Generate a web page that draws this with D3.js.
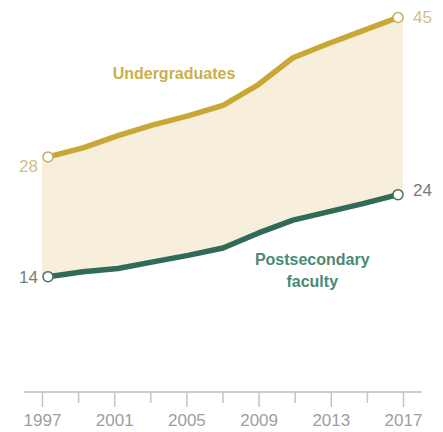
<!DOCTYPE html>
<html>
<head>
<meta charset="utf-8">
<script src="https://cdn.jsdelivr.net/npm/d3@7"></script>
<style>
	body { margin: 0; background: #fff; }
	text { font-family: "Liberation Sans", Arial, sans-serif; }
	.series-label { font-family: "Liberation Sans Narrow", "Liberation Sans", Arial, sans-serif; font-weight: bold; }
</style>
</head>
<body>
<div id="chart-area"></div>
<script>
// Data
const years = [1997, 1999, 2001, 2003, 2005, 2007, 2009, 2011, 2013, 2015, 2017]
const undergrads = [28.3, 29.4, 30.9, 32.2, 33.3, 34.6, 37.1, 40.4, 42.1, 43.7, 45.3]
const faculty = [13.7, 14.3, 14.7, 15.5, 16.3, 17.2, 19.0, 20.6, 21.6, 22.6, 23.7]
const majorTicks = [1997, 2001, 2005, 2009, 2013, 2017]
const minorTicks = [1999, 2003, 2007, 2011, 2015]
const endLabels = { under: ["28", "45"], fac: ["14", "24"] }

// Canvas
const width = 443, height = 432

const svg = d3.select("#chart-area")
	.append("svg")
	.attr("width", width)
	.attr("height", height)

// Scales
const xLine = d3.scaleLinear().domain([1997, 2017]).range([48, 398])
const xAxisScale = d3.scaleLinear().domain([1997, 2017]).range([42, 403])
const y = d3.scaleLinear().domain([0, 45]).range([389, 20])
const axisY = 392

const rows = years.map((yr, i) => ({ year: yr, under: undergrads[i], fac: faculty[i] }))

// Band between the two series
const area = d3.area()
	.x(d => xAxisScale(d.year))
	.y0(d => y(d.fac))
	.y1(d => y(d.under))

svg.append("path")
	.attr("d", area(rows))
	.attr("fill", "#f7efdb")

// Lines
const lineUnder = d3.line().x(d => xLine(d.year)).y(d => y(d.under))
const lineFac = d3.line().x(d => xLine(d.year)).y(d => y(d.fac))

svg.append("path")
	.attr("d", lineUnder(rows))
	.attr("fill", "none")
	.attr("stroke", "#c9a735")
	.attr("stroke-width", 5.5)
	.attr("stroke-linejoin", "round")

svg.append("path")
	.attr("d", lineFac(rows))
	.attr("fill", "none")
	.attr("stroke", "#2f6b57")
	.attr("stroke-width", 5.5)
	.attr("stroke-linejoin", "round")

// End circles
const ends = [rows[0], rows[rows.length - 1]]
svg.selectAll(".c-under").data(ends).enter().append("circle")
	.attr("cx", d => xLine(d.year)).attr("cy", d => y(d.under)).attr("r", 5)
	.attr("fill", "#fff").attr("stroke", "#c8ad60").attr("stroke-width", 1.5)
svg.selectAll(".c-fac").data(ends).enter().append("circle")
	.attr("cx", d => xLine(d.year)).attr("cy", d => y(d.fac)).attr("r", 5)
	.attr("fill", "#fff").attr("stroke", "#4d6f64").attr("stroke-width", 1.5)

// End value labels
const first = rows[0], last = rows[rows.length - 1]
svg.append("text").attr("x", xLine(first.year) - 10).attr("y", y(first.under) + 15)
	.attr("text-anchor", "end").attr("font-size", "17px").attr("fill", "#d3bf82").text(endLabels.under[0])
svg.append("text").attr("x", xLine(last.year) + 15).attr("y", y(last.under) + 5)
	.attr("text-anchor", "start").attr("font-size", "17px").attr("fill", "#d3bf82").text(endLabels.under[1])
svg.append("text").attr("x", xLine(first.year) - 10).attr("y", y(first.fac) + 6)
	.attr("text-anchor", "end").attr("font-size", "17px").attr("fill", "#6f7f7a").text(endLabels.fac[0])
svg.append("text").attr("x", xLine(last.year) + 15).attr("y", y(last.fac) + 1)
	.attr("text-anchor", "start").attr("font-size", "17px").attr("fill", "#6f7f7a").text(endLabels.fac[1])

// Series labels
svg.append("text").attr("class", "series-label")
	.attr("x", xLine(2004.2)).attr("y", y(37.8))
	.attr("text-anchor", "middle").attr("font-size", "16px").attr("fill", "#c9b04e")
	.text("Undergraduates")

const facLabel = svg.append("text").attr("class", "series-label")
	.attr("text-anchor", "middle").attr("font-size", "16px").attr("fill", "#4b8a74")
facLabel.append("tspan").attr("x", xLine(2012.1)).attr("y", y(15.1)).text("Postsecondary")
facLabel.append("tspan").attr("x", xLine(2012.1)).attr("dy", 22).text("faculty")

// Axes
svg.append("line")
	.attr("x1", xAxisScale.range()[0] - 18).attr("x2", xAxisScale.range()[1] + 19)
	.attr("y1", axisY).attr("y2", axisY)
	.attr("stroke", "#bdbdbd").attr("stroke-width", 1.5)

const minorAxisCall = d3.axisBottom(xAxisScale).tickValues(minorTicks).tickSize(11).tickFormat("")
const majorAxisCall = d3.axisBottom(xAxisScale).tickValues(majorTicks).tickSize(15).tickPadding(7).tickFormat(d3.format("d"))

const minorAxis = svg.append("g").attr("transform", `translate(0, ${axisY})`).call(minorAxisCall)
const majorAxis = svg.append("g").attr("transform", `translate(0, ${axisY})`).call(majorAxisCall)

svg.selectAll(".domain").remove()
svg.selectAll(".tick line").attr("stroke", "#c4c4c4").attr("stroke-width", 1.5)
majorAxis.selectAll(".tick text")
	.attr("font-size", "17px")
	.attr("font-family", "Liberation Sans, Arial, sans-serif")
	.attr("fill", "#9e9e9e")
</script>
</body>
</html>
